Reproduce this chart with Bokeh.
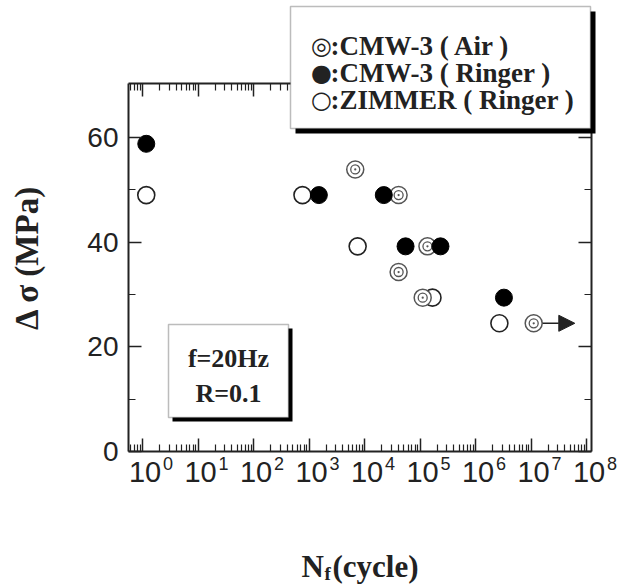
import math

from bokeh.plotting import figure
from bokeh.models import (FixedTicker, LinearAxis, LogAxis, CustomJSTickFormatter,
                          BoxAnnotation, Label, LabelSet, ColumnDataSource, Arrow,
                          NormalHead, Range1d)
from bokeh.core.properties import value
from bokeh.embed import file_html
from bokeh.resources import INLINE

# Fatigue results: stress range (MPa) against cycles to failure
air_cycles = [6.7e3, 4.05e4, 1.34e5, 4.05e4, 1.1e5, 1.1e7]
air_stress = [53.9, 49.0, 39.2, 34.3, 29.4, 24.5]
ringer_cycles = [1.15, 1.48e3, 2.19e4, 5.4e4, 2.3e5, 3.2e6]
ringer_stress = [58.8, 49.0, 49.0, 39.2, 39.2, 29.4]
zimmer_cycles = [1.15, 7.5e2, 7.4e3, 1.65e5, 2.65e6]
zimmer_stress = [49.0, 49.0, 39.2, 29.4, 24.5]
runout_cycles = [1.1e7]
runout_stress = [24.5]

decades = list(range(0, 9))
stress_ticks = [0, 20, 40, 60]
stress_minor = [10, 30, 50]
stress_labels = ["0", "20", "40", "60"]
legend_symbols = ["\u25ce", "\u25cf", "\u25cb"]
legend_labels = [":CMW-3 ( Air )", ":CMW-3 ( Ringer )", ":ZIMMER ( Ringer )"]
condition_lines = ["f=20Hz", "R=0.1"]
y_title = "\u0394 \u03c3 (MPa)"

SERIF = "Liberation Serif"
SANS = "Liberation Sans"
INK = "#222222"

# page geometry (canvas pixels); the plotting area fills the whole page and
# the axes box is drawn inside it with fixed-location axes
W, H = 626, 585
BOX_L, BOX_R, BOX_T = 128, 591, 83
X0_PX, PX_DEC = 142.4, 55.5    # position of 10^0 and width of one decade
Y0_PX, PX_MPA = 451.0, 5.233   # position of 0 MPa and pixels per MPa

x_lo = 10 ** ((0 - X0_PX) / PX_DEC)
x_hi = 10 ** ((W - X0_PX) / PX_DEC)
x_left = 10 ** ((BOX_L - X0_PX) / PX_DEC)
x_right = 10 ** ((BOX_R - X0_PX) / PX_DEC)
y_lo = (Y0_PX - H) / PX_MPA
y_hi = Y0_PX / PX_MPA
y_top = (Y0_PX - BOX_T) / PX_MPA


def fy(cy):
    return H - cy


p = figure(width=W, height=H, x_axis_type="log", output_backend="svg",
           toolbar_location=None,
           x_range=Range1d(x_lo, x_hi), y_range=Range1d(y_lo, y_hi),
           min_border_left=0, min_border_right=0,
           min_border_top=0, min_border_bottom=0)
p.grid.visible = False
p.outline_line_color = None
p.background_fill_color = "white"
p.border_fill_color = "white"

major_x = [10.0 ** k for k in decades]
minor_x = [m * 10.0 ** k for k in range(-1, 8) for m in range(2, 10)]
minor_x = [v for v in minor_x if x_left <= v <= x_right]
blank = CustomJSTickFormatter(code="return ''")


def style(ax):
    ax.axis_line_color = INK
    ax.axis_line_width = 2
    ax.major_tick_line_color = INK
    ax.minor_tick_line_color = INK
    ax.major_tick_line_width = 1.5
    ax.minor_tick_line_width = 1.2
    ax.major_tick_in = 13
    ax.major_tick_out = 0
    ax.minor_tick_in = 7
    ax.minor_tick_out = 0
    ax.formatter = blank
    ax.major_label_text_font_size = "0px"
    ax.major_label_standoff = 0


xt = FixedTicker(ticks=major_x, minor_ticks=minor_x)
yt = FixedTicker(ticks=stress_ticks, minor_ticks=stress_minor)

bottom_ax = p.xaxis[0]
bottom_ax.ticker = xt
style(bottom_ax)
bottom_ax.fixed_location = 0
bottom_ax.bounds = (x_left, x_right)

left_ax = p.yaxis[0]
left_ax.ticker = yt
style(left_ax)
left_ax.fixed_location = x_left
left_ax.bounds = (0, y_top)

top_ax = LogAxis(ticker=xt, fixed_location=y_top, bounds=(x_left, x_right))
style(top_ax)
p.add_layout(top_ax, "above")
right_ax = LinearAxis(ticker=yt, fixed_location=x_right, bounds=(0, y_top))
style(right_ax)
p.add_layout(right_ax, "right")

# stress tick labels
st_src = ColumnDataSource(dict(x=[x_left] * len(stress_ticks), y=stress_ticks,
                               text=stress_labels))
p.add_layout(LabelSet(source=st_src, x="x", y="y", text="text",
                      x_offset=-10, y_offset=0, text_align="right",
                      text_baseline="middle", text_font=value(SANS),
                      text_font_size=value("28px"), text_color=INK))

# decade labels 10^n under the bottom axis
dec_src = ColumnDataSource(dict(x=major_x, y=[0] * len(decades),
                                base=["10"] * len(decades),
                                exp=[str(k) for k in decades]))
p.add_layout(LabelSet(source=dec_src, x="x", y="y", text="base",
                      x_offset=-14, y_offset=-10, text_align="left",
                      text_baseline="top", text_font=value(SANS),
                      text_font_size=value("29px"), text_color=INK))
p.add_layout(LabelSet(source=dec_src, x="x", y="y", text="exp",
                      x_offset=20, y_offset=-5, text_align="left",
                      text_baseline="top", text_font=value(SANS),
                      text_font_size=value("18px"), text_color=INK))

# axis titles
p.add_layout(Label(x=26, y=fy(257), x_units="screen", y_units="screen",
                   text=y_title, angle=math.pi / 2, text_font=SERIF,
                   text_font_style="bold", text_font_size="33px",
                   text_align="center", text_baseline="middle", text_color=INK))
xl_y = fy(566)
for txt, cx, size, dy in [("N", 301, "31px", 0), ("f", 324, "19px", -7),
                          ("(cycle)", 332, "31px", 0)]:
    p.add_layout(Label(x=cx, y=xl_y + dy, x_units="screen", y_units="screen",
                       text=txt, text_font=SERIF, text_font_style="bold",
                       text_font_size=size, text_align="left",
                       text_baseline="middle", text_color=INK))

# runout arrow
p.add_layout(Arrow(x_start=runout_cycles[0], y_start=runout_stress[0],
                   x_end=runout_cycles[0] * 5.5, y_end=runout_stress[0],
                   line_color=INK, line_width=1.5, level="underlay",
                   end=NormalHead(size=16, fill_color=INK, line_color=INK)))

# data
p.scatter(zimmer_cycles, zimmer_stress, marker="circle", size=17,
          fill_color="white", line_color=INK, line_width=1.6)
p.scatter(air_cycles, air_stress, marker="circle", size=17,
          fill_color="white", line_color="#555555", line_width=1.5)
p.scatter(air_cycles, air_stress, marker="circle_dot", size=9,
          fill_color="white", line_color="#555555", line_width=1.3)
p.scatter(ringer_cycles, ringer_stress, marker="circle", size=17,
          fill_color="black", line_color="black", line_width=1)


def framed_box(l, r, t, b, shadow=5):
    p.add_layout(BoxAnnotation(left=l + shadow, right=r + shadow,
                               top=fy(t + shadow), bottom=fy(b + shadow),
                               left_units="screen", right_units="screen",
                               top_units="screen", bottom_units="screen",
                               fill_color="black", fill_alpha=1, line_alpha=0))
    p.add_layout(BoxAnnotation(left=l, right=r, top=fy(t), bottom=fy(b),
                               left_units="screen", right_units="screen",
                               top_units="screen", bottom_units="screen",
                               fill_color="white", fill_alpha=1,
                               line_color=INK, line_width=1.5))


# legend
framed_box(290, 590, 6, 128)
for i, (sym, lab) in enumerate(zip(legend_symbols, legend_labels)):
    cy = 45 + i * 27
    p.add_layout(Label(x=321, y=fy(cy), x_units="screen", y_units="screen",
                       text=sym, text_font="DejaVu Sans",
                       text_font_size="24px", text_align="center",
                       text_baseline="middle", text_color=INK))
    p.add_layout(Label(x=330, y=fy(cy), x_units="screen", y_units="screen",
                       text=lab, text_font=SERIF, text_font_style="bold",
                       text_font_size="27px", text_align="left",
                       text_baseline="middle", text_color=INK))

# test conditions box
framed_box(168, 288, 324, 417, shadow=4)
for i, txt in enumerate(condition_lines):
    p.add_layout(Label(x=228, y=fy(358 + i * 35), x_units="screen",
                       y_units="screen", text=txt, text_font=SERIF,
                       text_font_style="bold", text_font_size="26px",
                       text_align="center", text_baseline="middle",
                       text_color=INK))

open("out.html", "w").write(file_html(p, INLINE))
